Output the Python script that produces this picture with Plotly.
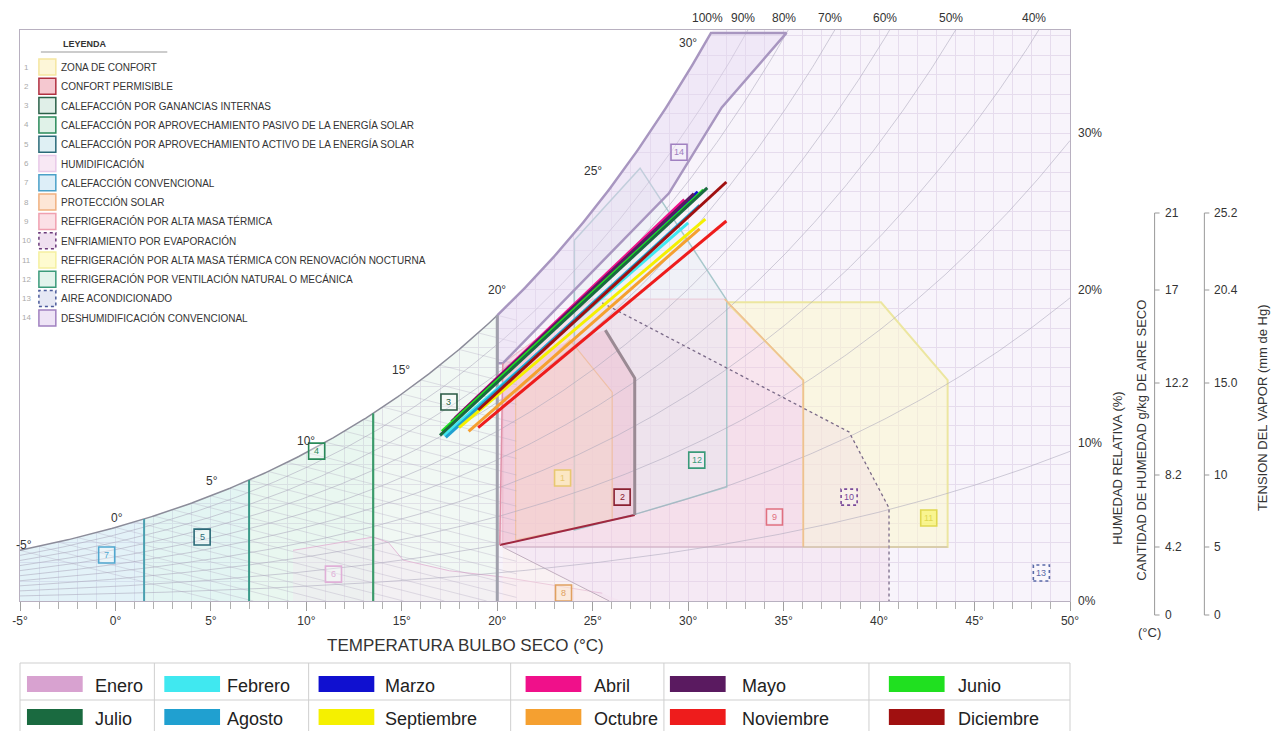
import numpy as np
import plotly.graph_objects as go

FONT = "Liberation Sans, Arial, sans-serif"
TXT = "#333333"

# ---------------- chart frame ----------------
T_MIN, T_MAX, W_MAX = -5, 50, 29.3
x_tick_vals = list(range(-5, 51, 5))
x_tick_text = [f"{v}°" for v in x_tick_vals]

rh_curve_levels = [0.1, 0.2, 0.3, 0.4, 0.5, 0.6, 0.7, 0.8, 0.9]
rh_top_levels = [1.0, 0.9, 0.8, 0.7, 0.6, 0.5, 0.4]
rh_top_text = ["100%", "90%", "80%", "70%", "60%", "50%", "40%"]
rh_right_levels = [0.3, 0.2, 0.1, 0.0]
rh_right_text = ["30%", "20%", "10%", "0%"]
sat_label_temps = [-5, 0, 5, 10, 15, 20, 25, 30]
sat_label_text = ["-5°", "0°", "5°", "10°", "15°", "20°", "25°", "30°"]
sat_label_dy = [5, 9, 15, 12, 24, 25, 40, 29]
sat_label_dx = [4, 2, 1, 0, -1, 0, 0, 0]
wetbulb_temps = list(range(-5, 21))
WB_SLOPE = 0.25
WB_T_END = 21

# ---------------- monthly lines (T, w g/kg) ----------------
months = ["Enero", "Febrero", "Marzo", "Abril", "Mayo", "Junio",
          "Julio", "Agosto", "Septiembre", "Octubre", "Noviembre", "Diciembre"]
month_colors = ["#d8a2d0", "#40e8f0", "#1010d0", "#f0108a", "#5a1a60", "#20e020",
                "#1a6a40", "#20a0d0", "#f5f000", "#f5a030", "#ee1c1c", "#a01010"]
month_t_low = [17.3, 17.2, 17.5, 17.8, 17.6, 17.1, 17.0, 17.3, 18.0, 18.5, 19.0, 19.0]
month_w_low = [8.8, 8.5, 9.0, 9.4, 9.2, 8.7, 8.5, 8.4, 8.9, 8.7, 8.9, 9.8]
month_t_high = [30.2, 30.0, 30.5, 29.8, 30.3, 30.8, 31.0, 30.6, 30.9, 30.6, 32.0, 32.0]
month_w_high = [20.7, 19.4, 21.0, 20.6, 20.9, 21.1, 21.2, 20.3, 19.6, 19.1, 19.5, 21.5]
month_draw_order = [0, 2, 3, 4, 5, 1, 7, 6, 9, 8, 11, 10]

# ---------------- zones (T °C, w g/kg) ----------------
heat_bounds = [-5, 1.5, 7, 13.5, 20]          # zones 7, 5, 4, 3
heat_fill = ["rgba(200,230,242,0.5)", "rgba(200,236,232,0.5)",
             "rgba(206,238,222,0.45)", "rgba(220,238,228,0.4)"]
heat_line = ["#4aa0b0", "#3a9a8a", "#3a9a6a", "#a0a0ac"]
heat_line_w = [2, 2, 2.2, 3]

z1_t = [20.96, 20.96, 23.8, 26.02, 26.02]
z1_w = [3.13, 10.67, 13.4, 10.72, 4.15]
z2_t = [20.13, 27.2, 27.2, 25.66, 20.29]
z2_w = [2.87, 4.41, 11.44, 13.90, 12.2]
z6_t = [9.3, 9.3, 13.5, 14.3, 15.07, 17.5, 20.29, 25.5, 26.5]
z6_w = [0, 2.6, 3.28, 3.0, 2.10, 1.55, 1.23, 0.4, 0]
z8_t = [20.29, 25.87, 20.29]
z8_w = [2.77, 0, 0]
z9_t = [20.29, 20.29, 24.98, 31.91, 36.03, 36.03]
z9_w = [2.77, 12.2, 15.49, 15.49, 11.33, 2.77]
z10_t = [25.5, 38.43, 40.52, 40.52, 25.87, 20.29, 20.29]
z10_w = [15.3, 8.67, 4.77, 0, 0, 2.77, 12.2]
z11_t = [32.02, 40.10, 43.59, 43.59, 36.03, 36.03]
z11_w = [15.33, 15.33, 11.33, 2.77, 2.77, 11.33]
z12_t = [24.04, 27.48, 32.02, 32.02, 27.43, 24.04]
z12_w = [18.51, 22.21, 15.44, 5.85, 4.51, 3.64]
z14_right_t = [35.15, 31.76, 28.99, 20.29, 20.0]
z14_right_w = [29.15, 25.33, 20.92, 12.2, 12.2]
z14_top_w = 29.15

# zone number boxes
box_num = list(range(1, 15))
box_t = [23.42, 26.54, 17.47, 10.54, 4.54, 11.42, -0.46, 23.47, 34.52, 38.43, 42.6, 30.45, 48.5, 29.52]
box_w = [6.31, 5.33, 10.21, 7.69, 3.28, 1.38, 2.36, 0.41, 4.31, 5.33, 4.26, 7.23, 1.44, 23.03]
box_col = ["#e8c870", "#8a2030", "#2a5a44", "#2a8a5a", "#2a6a78", "#e0b0d8", "#50a8d0",
           "#e0a060", "#e07080", "#7a4a9a", "#e0d850", "#3a9a7a", "#5a6aa8", "#a080c0"]
box_fill = ["rgba(253,240,190,0.7)", "rgba(255,255,255,0.2)", "rgba(255,255,255,0.3)",
            "rgba(255,255,255,0.3)", "rgba(255,255,255,0.3)", "rgba(255,255,255,0.3)",
            "rgba(255,255,255,0.3)", "rgba(253,230,200,0.5)", "rgba(255,255,255,0.3)",
            "rgba(255,255,255,0.3)", "rgba(248,245,110,0.7)", "rgba(255,255,255,0.3)",
            "rgba(255,255,255,0.3)", "rgba(255,255,255,0.3)"]
box_dash = ["solid"] * 9 + ["dot"] + ["solid"] * 2 + ["dot"] + ["solid"]

# legend (top-left)
legend_labels = ["ZONA DE CONFORT", "CONFORT PERMISIBLE", "CALEFACCIÓN POR GANANCIAS INTERNAS",
                 "CALEFACCIÓN POR APROVECHAMIENTO PASIVO DE LA ENERGÍA SOLAR",
                 "CALEFACCIÓN POR APROVECHAMIENTO ACTIVO DE LA ENERGÍA SOLAR",
                 "HUMIDIFICACIÓN", "CALEFACCIÓN CONVENCIONAL", "PROTECCIÓN SOLAR",
                 "REFRIGERACIÓN POR ALTA MASA TÉRMICA", "ENFRIAMIENTO POR EVAPORACIÓN",
                 "REFRIGERACIÓN POR ALTA MASA TÉRMICA CON RENOVACIÓN NOCTURNA",
                 "REFRIGERACIÓN POR VENTILACIÓN NATURAL O MECÁNICA",
                 "AIRE ACONDICIONADO", "DESHUMIDIFICACIÓN CONVENCIONAL"]
legend_line = ["#f5e6a0", "#b03040", "#2a6048", "#2a8a5a", "#2a6a78", "#e8c8e8", "#4aa0c8",
               "#f0b080", "#f0a0b0", "#6a3a7a", "#f5f0a0", "#3a9a7a", "#4a5a9a", "#a080c0"]
legend_fill = ["#fdf6d8", "#f5c8d0", "#e0efe8", "#e0f2e8", "#dff0f4", "#f8e8f4", "#ddeef8",
               "#fde6d6", "#fbe0e6", "#efe0f0", "#fefbd0", "#e2f3ec", "#e6e8f4", "#eee4f6"]

# right auxiliary scales
humid_ticks = ["21", "17", "12.2", "8.2", "4.2", "0"]
vapor_ticks = ["25.2", "20.4", "15.0", "10", "5", "0"]
aux_tick_ypix = [213, 290, 383, 475, 547, 615]

# ---------------- layout geometry (pixels) ----------------
L, R, TOP, BOT = 15, 1070, 30, 601
def px(x):
    return (x - L) / (R - L)
def py(y):
    return (BOT - y) / (BOT - TOP)

# ---------------- psychrometrics ----------------
def p_ws(t):
    return 0.61094 * np.exp(17.625 * t / (t + 243.04))
def w_rh(t, rh):
    p = rh * p_ws(t)
    return 622.0 * p / (101.325 - p)

T_grid = np.round(np.arange(-5, 50.0001, 0.1), 4)
ws_grid = w_rh(T_grid, 1.0)

fig = go.Figure()

def poly(t, w, fill, lc="rgba(0,0,0,0)", lw=0, dash="solid"):
    fig.add_trace(go.Scatter(x=list(t) + [t[0]], y=list(w) + [w[0]], mode="lines",
                             fill="toself", fillcolor=fill,
                             line=dict(color=lc, width=lw, dash=dash),
                             hoverinfo="skip", showlegend=False))

def line(t, w, color, width, dash="solid"):
    fig.add_trace(go.Scatter(x=list(t), y=list(w), mode="lines",
                             line=dict(color=color, width=width, dash=dash),
                             hoverinfo="skip", showlegend=False))

# background under the curve (T >= 20)
m = T_grid >= 20
bt = [20] + list(T_grid[m]) + [50]
bw = [0] + list(np.minimum(ws_grid[m], W_MAX + 1)) + [0]
poly(bt, bw, "rgba(238,228,245,0.4)")

# heating zones
for i in range(4):
    a, b = heat_bounds[i], heat_bounds[i + 1]
    mm = (T_grid >= a - 1e-9) & (T_grid <= b + 1e-9)
    poly([a] + list(T_grid[mm]) + [b], [0] + list(ws_grid[mm]) + [0], heat_fill[i])

# other zones (fills)
poly(z6_t, z6_w, "rgba(246,225,240,0.35)")
line(z6_t[1:-1], z6_w[1:-1], "#e4bcd8", 1)
poly(z8_t, z8_w, "rgba(252,236,228,0.35)")
line([z8_t[0], z8_t[1]], [z8_w[0], z8_w[1]], "#b8a8b8", 1)
poly(z9_t, z9_w, "rgba(246,205,218,0.38)", "#f0c0d0", 1.2)
poly(z11_t, z11_w, "rgba(252,248,205,0.55)", "#ece6a0", 2)
poly(z10_t, z10_w, "rgba(240,210,228,0.3)")
poly(z12_t, z12_w, "rgba(225,236,240,0.35)", "#a8c8cc", 1.5)
poly(z1_t, z1_w, "rgba(253,240,205,0.45)", "#f0c890", 1.2)
poly(z2_t, z2_w, "rgba(238,180,200,0.4)")

# RH curves
for rh in rh_curve_levels:
    line(T_grid, w_rh(T_grid, rh), "rgba(170,165,185,0.55)", 1)

# wet bulb lines (left part of the chart)
wx, wy = [], []
for tw in wetbulb_temps:
    w0 = float(w_rh(tw, 1.0))
    t_end = min(tw + w0 / WB_SLOPE, WB_T_END)
    wx += [tw, t_end, None]
    wy += [w0, w0 - WB_SLOPE * (t_end - tw), None]
line(wx, wy, "rgba(170,160,185,0.4)", 0.8)

# mask above saturation curve
mm = T_grid <= 34
mx = list(T_grid[mm]) + [34, -6, -6]
my = list(np.minimum(ws_grid[mm], W_MAX + 2)) + [W_MAX + 2, W_MAX + 2, float(ws_grid[0])]
poly(mx, my, "white")

# zone 14 (deshumidificación)
t_top = float(np.interp(z14_top_w, ws_grid, T_grid))
m14 = (T_grid >= 20) & (T_grid <= t_top)
z14_t = list(T_grid[m14]) + [t_top] + z14_right_t
z14_w = list(ws_grid[m14]) + [z14_top_w] + z14_right_w
poly(z14_t, z14_w, "rgba(228,214,240,0.42)", "#a896c0", 2.5)

# zone outlines
line([z10_t[0], z10_t[1], z10_t[2], z10_t[3]], [z10_w[0], z10_w[1], z10_w[2], z10_w[3]], "#7a6a88", 1.3, "dot")
line([z2_t[0], z2_t[1]], [z2_w[0], z2_w[1]], "#a02840", 2)
line([z2_t[1], z2_t[2], z2_t[3]], [z2_w[1], z2_w[2], z2_w[3]], "#9a8a94", 3)
line([z2_t[0], z2_t[4]], [z2_w[0], z2_w[4]], "#e090a8", 1.5)
line([z9_t[3], z9_t[4], z9_t[5]], [z9_w[3], z9_w[4], z9_w[5]], "#f0c090", 1.5)
line([20.29, 43.59], [2.77, 2.77], "rgba(190,170,190,0.8)", 1)

# saturation curve (left part) and heating boundaries
ms = T_grid <= 20
line(T_grid[ms], ws_grid[ms], "#8c8c9a", 1.5)
for i in range(1, 5):
    b = heat_bounds[i]
    line([b, b], [0, float(w_rh(b, 1.0))], heat_line[i - 1], heat_line_w[i - 1])

# monthly lines
for k in month_draw_order:
    line([month_t_low[k], month_t_high[k]], [month_w_low[k], month_w_high[k]], month_colors[k], 3)

shapes, ann = [], []

def pann(x, y, text, size, color=TXT, xa="center", ya="middle", angle=0):
    ann.append(dict(x=px(x), y=py(y), xref="paper", yref="paper", text=text, showarrow=False,
                    xanchor=xa, yanchor=ya, textangle=angle,
                    font=dict(size=size, color=color, family=FONT)))

# zone number boxes
hx, hy = 0.42, 0.41
for n, t, w, c, f, d in zip(box_num, box_t, box_w, box_col, box_fill, box_dash):
    shapes.append(dict(type="rect", xref="x", yref="y", x0=t - hx, x1=t + hx, y0=w - hy, y1=w + hy,
                       line=dict(color=c, width=1.6, dash=d), fillcolor=f, layer="above"))
    ann.append(dict(x=t, y=w, xref="x", yref="y", text=str(n), showarrow=False,
                    xanchor="center", yanchor="middle",
                    font=dict(size=9, color=c, family=FONT)))

# saturation temperature labels
for t, s, dy, dx in zip(sat_label_temps, sat_label_text, sat_label_dy, sat_label_dx):
    ann.append(dict(x=t, y=float(w_rh(t, 1.0)), xref="x", yref="y", text=s, showarrow=False,
                    xanchor="center", yanchor="middle",
                    yshift=dy, xshift=dx, font=dict(size=12, color=TXT, family=FONT)))

# RH labels (top & right)
for rh, s in zip(rh_top_levels, rh_top_text):
    tt = float(np.interp(W_MAX, w_rh(T_grid, rh), T_grid))
    ann.append(dict(x=tt, y=W_MAX, xref="x", yref="y", text=s, showarrow=False,
                    xanchor="center", yanchor="middle",
                    yshift=12, xshift=-5, font=dict(size=12, color=TXT, family=FONT)))
for rh, s in zip(rh_right_levels, rh_right_text):
    ann.append(dict(x=50, y=float(w_rh(50.0, rh)), xref="x", yref="y", text=s, showarrow=False,
                    xanchor="left", yanchor="middle", xshift=6, yshift=(8 if rh > 0 else 0),
                    font=dict(size=12, color=TXT, family=FONT)))

# x title
pann(463, 645, "TEMPERATURA BULBO SECO (°C)", 17)

# top-left legend
pann(80, 44, "<b>LEYENDA</b>", 9)
shapes.append(dict(type="line", xref="paper", yref="paper", x0=px(36), x1=px(163), y0=py(52), y1=py(52),
                   line=dict(color="#999999", width=1)))
for i, (lab, lc, fc) in enumerate(zip(legend_labels, legend_line, legend_fill)):
    yc = 67 + i * 19.3
    shapes.append(dict(type="rect", xref="paper", yref="paper", x0=px(34), x1=px(51),
                       y0=py(yc + 8), y1=py(yc - 8), fillcolor=fc,
                       line=dict(color=lc, width=1.5, dash=("dot" if i in (9, 12) else "solid"))))
    pann(22, yc, str(i + 1), 8, "#aaaaaa")
    pann(54, yc, lab, 10, TXT, xa="left")

# right auxiliary scales
for ax_x, ticks in ((1155, humid_ticks), (1205, vapor_ticks)):
    shapes.append(dict(type="line", xref="paper", yref="paper", x0=px(ax_x), x1=px(ax_x),
                       y0=py(aux_tick_ypix[0]), y1=py(aux_tick_ypix[-1]),
                       line=dict(color="#999999", width=1)))
    for yv, s in zip(aux_tick_ypix, ticks):
        shapes.append(dict(type="line", xref="paper", yref="paper", x0=px(ax_x), x1=px(ax_x + 5),
                           y0=py(yv), y1=py(yv), line=dict(color="#999999", width=1)))
        pann(ax_x + 8, yv, s, 12, TXT, xa="left")
pann(1117, 468, "HUMEDAD RELATIVA (%)", 13, angle=-90)
pann(1141, 440, "CANTIDAD DE HUMEDAD g/kg DE AIRE SECO", 13, angle=-90)
pann(1263, 408, "TENSION DEL VAPOR (mm de Hg)", 13, angle=-90)
pann(1150, 632, "(°C)", 13)

# month table legend
col_edges = [15, 150, 305, 508, 662, 868, 1070]
sw_x = [22, 160, 315, 523, 668, 888]
tx_x = [88, 221, 380, 590, 738, 955]
row_c = [684, 717]
tc = "#cfcfcf"
for yv in (663, 700, 735):
    shapes.append(dict(type="line", xref="paper", yref="paper", x0=px(15), x1=px(1070), y0=py(yv), y1=py(yv),
                       line=dict(color=tc, width=1)))
for xv in col_edges:
    shapes.append(dict(type="line", xref="paper", yref="paper", x0=px(xv), x1=px(xv), y0=py(663), y1=py(735),
                       line=dict(color=tc, width=1)))
for k, (mname, mc) in enumerate(zip(months, month_colors)):
    r, c = divmod(k, 6)
    yc = row_c[r]
    shapes.append(dict(type="rect", xref="paper", yref="paper", x0=px(sw_x[c]), x1=px(sw_x[c] + 56),
                       y0=py(yc + 8), y1=py(yc - 8), fillcolor=mc, line=dict(width=0)))
    pann(tx_x[c], yc + 2, mname, 18, "#222222", xa="left")

fig.update_layout(
    width=1274, height=731, autosize=False,
    margin=dict(l=L, r=1274 - R, t=TOP, b=731 - BOT, pad=0),
    paper_bgcolor="white", plot_bgcolor="white",
    showlegend=False, hovermode=False,
    font=dict(family=FONT, color=TXT),
    shapes=shapes, annotations=ann,
    xaxis=dict(range=[T_MIN, T_MAX], tickmode="array", tickvals=x_tick_vals, ticktext=x_tick_text,
               ticks="outside", ticklen=9, tickcolor="#a0a0a0", tickfont=dict(size=12, color=TXT),
               showgrid=True, gridcolor="#e2d8e8", zeroline=False,
               showline=True, mirror=True, linecolor="#b8b0c0", linewidth=1,
               minor=dict(tickmode="linear", tick0=-5, dtick=1, ticks="outside", ticklen=7,
                          tickcolor="#b0b0b0", showgrid=True, gridcolor="#e2d8e8")),
    yaxis=dict(range=[0, W_MAX], tickmode="linear", tick0=0, dtick=1, showticklabels=False, ticks="",
               showgrid=True, gridcolor="#e2d8e8", zeroline=False,
               showline=True, mirror=True, linecolor="#b8b0c0", linewidth=1),
)

fig.write_html("out.html")
